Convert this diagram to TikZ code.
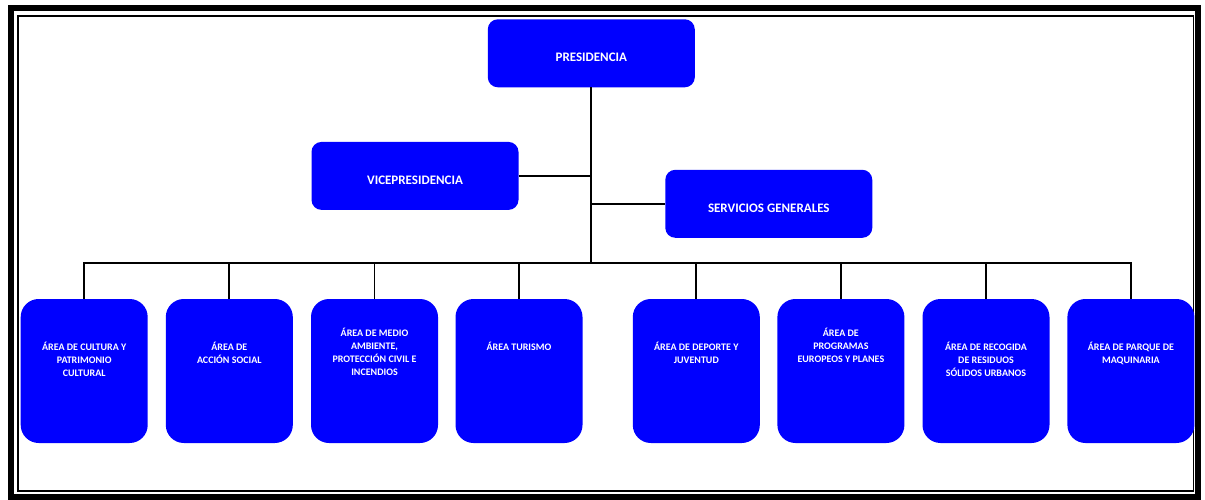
\documentclass[tikz,border=0pt]{standalone}
\usepackage{fontspec}
\setmainfont{Carlito}
\definecolor{boxblue}{RGB}{0,0,255}
\newcommand\orgtxt[2]{\parbox[c][144pt][t]{124pt}{\centering\vspace*{#1pt}\strut #2}}
\begin{document}
\begin{tikzpicture}[x=1pt,y=-1pt,
  topbox/.style={fill=boxblue, rounded corners=10pt, minimum width=207pt, minimum height=68pt,
    inner sep=0pt, text=white, font=\bfseries\fontsize{13}{15}\selectfont, text height=17pt, text depth=0pt},
  areabox/.style={fill=boxblue, rounded corners=18pt, minimum width=127pt, minimum height=144pt,
    inner sep=0pt, text=white, font=\bfseries\fontsize{10}{13.3}\selectfont},
  conn/.style={draw=black, line width=1.8pt}]
\useasboundingbox (0,0) rectangle (1205,500);
% frame
\draw[line width=6pt] (10.5,8) rectangle (1198,496.5);
\draw[line width=1.5pt] (18,16) rectangle (1193.5,491);
% top nodes
\node[topbox] (pres) at (591.3,53.3) {PRESIDENCIA};
\node[topbox] (vice) at (415,175.9) {VICEPRESIDENCIA};
\node[topbox] (serv) at (768.8,203.8) {SERVICIOS GENERALES};
% bottom areas
\node[areabox] (a1) at (84.2,371) {\orgtxt{41.7}{ÁREA DE CULTURA Y\\PATRIMONIO\\CULTURAL}};
\node[areabox] (a2) at (229.3,371) {\orgtxt{41.7}{ÁREA DE\\ACCIÓN SOCIAL}};
\node[areabox] (a3) at (374.5,371) {\orgtxt{27.7}{ÁREA DE MEDIO\\AMBIENTE,\\PROTECCIÓN CIVIL E\\INCENDIOS}};
\node[areabox] (a4) at (519,371) {\orgtxt{41.7}{ÁREA TURISMO}};
\node[areabox] (a5) at (696.3,371) {\orgtxt{41.7}{ÁREA DE DEPORTE Y\\JUVENTUD}};
\node[areabox] (a6) at (840.9,371) {\orgtxt{27.7}{ÁREA DE\\PROGRAMAS\\EUROPEOS Y PLANES}};
\node[areabox] (a7) at (986,371) {\orgtxt{41.7}{ÁREA DE RECOGIDA\\DE RESIDUOS\\SÓLIDOS URBANOS}};
\node[areabox] (a8) at (1130.9,371) {\orgtxt{41.7}{ÁREA DE PARQUE DE\\MAQUINARIA}};
% connectors
\coordinate (bus) at (591.3,263);
\draw[conn] (pres.south) -- (bus);
\draw[conn] (vice.east) -- (vice.east -| pres.south);
\draw[conn] (serv.west) -- (serv.west -| pres.south);
\foreach \k in {1,...,8}{\draw[conn] (a\k.north) |- (bus);}
\end{tikzpicture}
\end{document}
